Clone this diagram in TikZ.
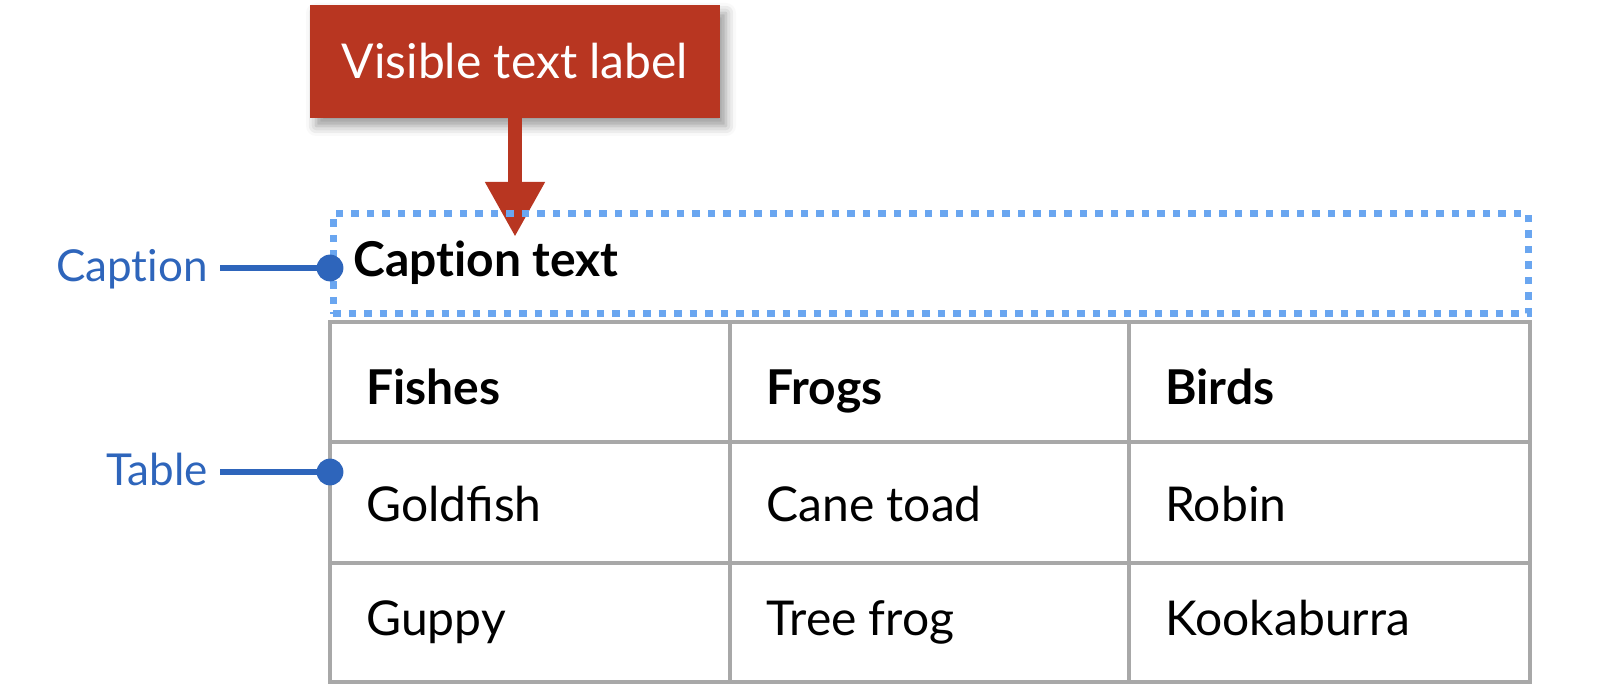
\documentclass[tikz,border=0pt]{standalone}
\usepackage{fontspec}
\setmainfont{Lato}
\usetikzlibrary{arrows.meta,shadows.blur}
\definecolor{rouge}{RGB}{184,54,33}
\definecolor{bleu}{RGB}{46,101,187}
\definecolor{bleuclair}{RGB}{106,166,240}
\definecolor{gris}{RGB}{168,168,168}

\begin{document}
\begin{tikzpicture}[x=0.5pt, y=-0.5pt,
    etiquette/.style={fill=rouge, text=white, inner sep=0pt,
      minimum width=205pt, minimum height=56.5pt,
      font=\fontsize{24}{28}\selectfont,
      blur shadow={shadow xshift=3pt, shadow yshift=-4pt,
        shadow blur radius=5pt, shadow opacity=40}},
    fleche/.style={rouge, line width=7pt,
      -{Triangle[length=27.5pt, width=28pt]}},
    cadre/.style={draw=bleuclair, line width=3.5pt,
      dash pattern=on 3.75pt off 4pt, minimum width=597.5pt,
      minimum height=50pt, inner sep=0pt},
    grille/.style={gris, line width=2pt, line cap=rect},
    cellule/.style={anchor=base west, inner sep=0pt,
      font=\fontsize{24}{28}\selectfont},
    entete/.style={cellule, font=\fontsize{24}{28}\selectfont\bfseries},
    repere/.style={anchor=base east, inner sep=0pt, text=bleu,
      font=\fontsize{22}{26}\selectfont},
    lien/.style={bleu, line width=3pt},
    point/.style={circle, fill=bleu, minimum size=13.4pt, inner sep=0pt}]
    \useasboundingbox (0, 0) rectangle (1600, 689);

    % Etiquette visible
    \node[etiquette] (etiq) at (515, 61.5) {Visible text label};
    \coordinate (pointe) at (515, 237);
    \draw[fleche] (etiq.south) -- (pointe);

    % Legende
    \node[cadre] (cadre) at (930.5, 264) {};
    \node[entete] (titre) at (353, 277) {Capt\kern0pt ion text};

    % Colonnes
    \foreach \x in {330, 730, 1129, 1530} {
      \draw[grille] (\x, 322) -- (\x, 682);
    }
    % Lignes
    \foreach \y in {322, 442, 563, 682} {
      \draw[grille] (330, \y) -- (1530, \y);
    }

    % Cellules
    \node[entete] (poissons) at (366, 405) {Fishes};
    \node[entete] (grenouilles) at (766, 405) {Frogs};
    \node[entete] (oiseaux) at (1165, 405) {Birds};
    \node[cellule] (poisson1) at (366, 521) {Goldfish};
    \node[cellule] (grenouille1) at (766, 521) {Cane toad};
    \node[cellule] (oiseau1) at (1165, 521) {Robin};
    \node[cellule] (poisson2) at (366, 635) {Guppy};
    \node[cellule] (grenouille2) at (766, 635) {Tree frog};
    \node[cellule] (oiseau2) at (1165, 635) {Kookaburra};

    % Reperes
    \coordinate (pcap) at (330, 268);
    \coordinate (ptab) at (330, 472);
    \node[repere] (lcap) at (208, 282) {Capt\kern0pt ion};
    \node[repere] (ltab) at (208, 485) {Table};
    \draw[lien] ([xshift=6pt]lcap.east |- pcap) -- (pcap);
    \draw[lien] ([xshift=6pt]ltab.east |- ptab) -- (ptab);
    \node[point] (dcap) at (pcap) {};
    \node[point] (dtab) at (ptab) {};
  \end{tikzpicture}
\end{document}
